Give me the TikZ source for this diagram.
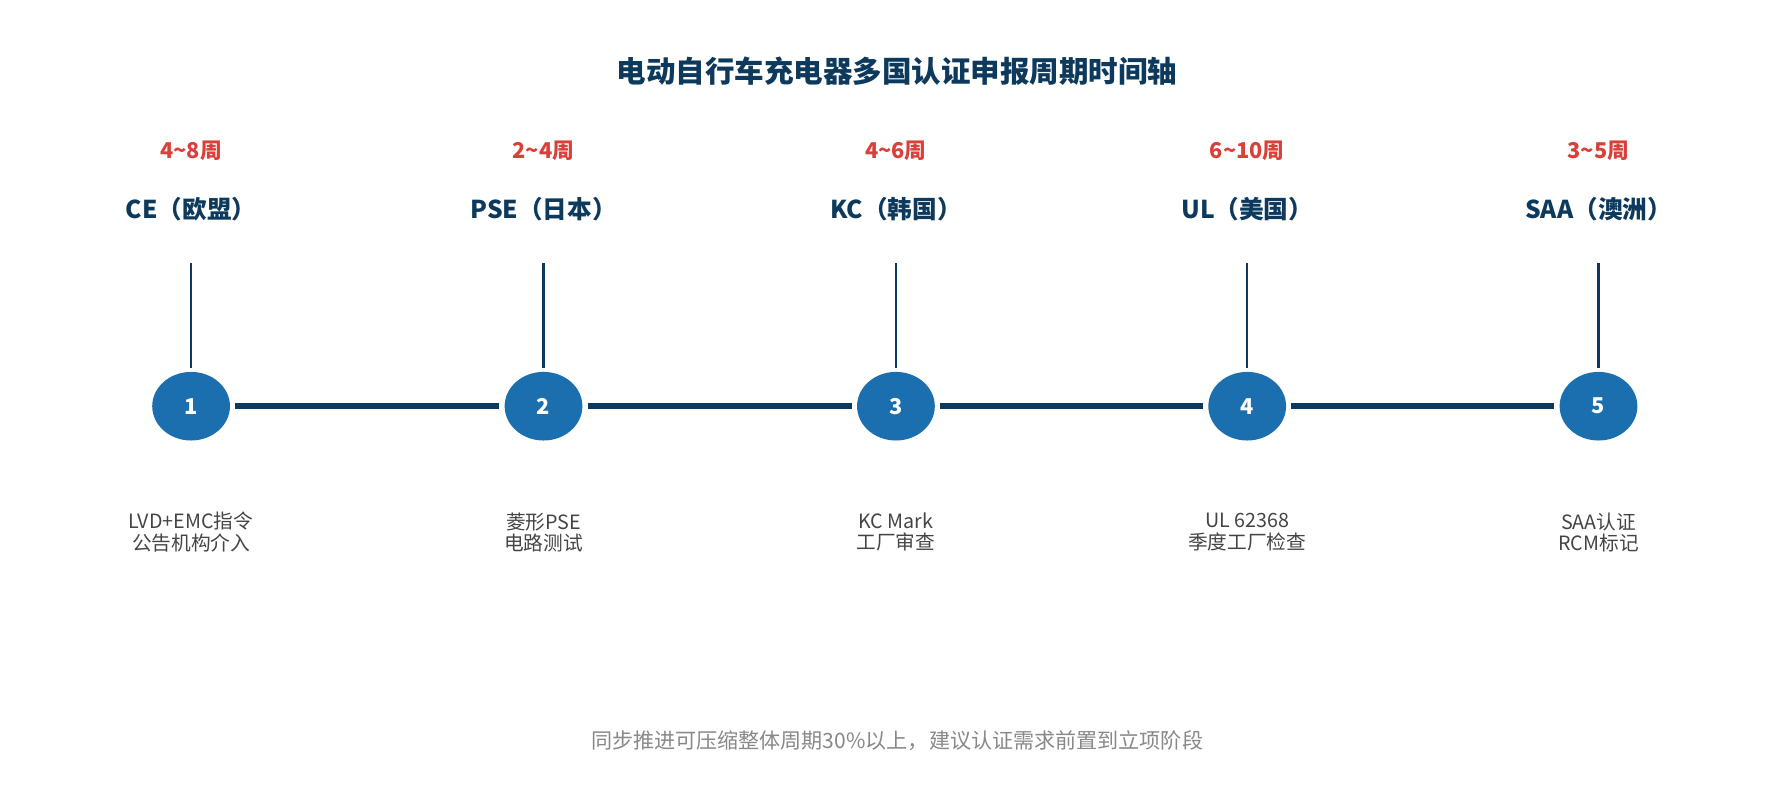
\documentclass[tikz,border=0pt]{standalone}
\usepackage{fontspec}
\setmainfont{Noto Sans CJK SC}
\usetikzlibrary{positioning, calc, shapes.geometric}
\definecolor{navy}{HTML}{0D3A5C}
\definecolor{stepblue}{HTML}{1B6FAF}
\definecolor{weekred}{HTML}{D9403A}
\definecolor{descgray}{HTML}{444444}
\definecolor{notegray}{HTML}{888888}
\newcommand{\pxu}{*0.3254pt}
\tikzset{
  milestone/.style = {ellipse, fill=stepblue, minimum width=68\pxu, minimum height=60\pxu, inner sep=0pt, text=white, font=\fontsize{6.2}{7}\selectfont\bfseries},
  week/.style = {text=weekred, font=\fontsize{6.2}{7}\selectfont\bfseries},
  cert/.style = {text=navy, font=\fontsize{7}{8}\selectfont\bfseries},
  desc/.style = {text=descgray, align=center, font=\fontsize{5.6}{6}\selectfont},
  link/.style = {navy, line width=5\pxu},
  stem/.style = {navy, line width=2\pxu}
}
\begin{document}
\begin{tikzpicture}[x=0.01144cm, y=-0.01144cm]
\useasboundingbox (0,0) rectangle (1560,708);

\node [text=navy, font=\fontsize{8.4}{10}\selectfont\bfseries] (title) at (784, 62) {电动自行车充电器多国认证申报周期时间轴};

% milestones
\foreach \i/\x/\wk/\name/\da/\db in {
  1/167/4\textasciitilde8周/CE（欧盟）/LVD+EMC指令/公告机构介入,
  2/475/2\textasciitilde4周/PSE（日本）/菱形PSE/电路测试,
  3/783/4\textasciitilde6周/KC（韩国）/KC Mark/工厂审查,
  4/1090/6\textasciitilde10周/UL（美国）/UL 62368/季度工厂检查,
  5/1397/3\textasciitilde5周/SAA（澳洲）/SAA认证/RCM标记} {
  \node [milestone] (s\i) at (\x, 355) {\i};
  \node [week] (w\i) at (\x, 132) {\wk};
  \node [cert] (c\i) at (\x, 183) {\name};
  \coordinate (t\i) at (\x, 230);
  \coordinate (b\i) at (\x, 322);
  \draw [stem] (t\i) -- (b\i);
  \node [desc] (d\i) at (\x, 465) {\da\\\db};
}

\foreach \i/\j in {1/2, 2/3, 3/4, 4/5}
  \draw [link] ([xshift=4\pxu]s\i.east) -- ([xshift=-4\pxu]s\j.west);

\node [text=notegray, font=\fontsize{6}{7}\selectfont] (note) at (784, 647) {同步推进可压缩整体周期30\%以上，建议认证需求前置到立项阶段};

\end{tikzpicture}
\end{document}
